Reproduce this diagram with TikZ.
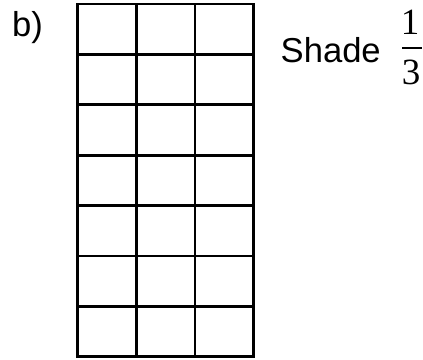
\documentclass[tikz,border=0pt]{standalone}
\usepackage{fontspec}
\setmainfont{Liberation Sans}
\newfontfamily\serifdigits{Liberation Serif}
\begin{document}
\begin{tikzpicture}[x=1pt,y=1pt,
  gridline/.style={line width=2.7pt, line cap=rect},
  label/.style={inner sep=0pt, font=\fontsize{34.6}{40}\selectfont},
  fracdigit/.style={inner sep=0pt, font=\serifdigits\fontsize{37}{42}\selectfont}]
\useasboundingbox (0,0) rectangle (423,359);
% grid: 3 columns x 7 rows
\foreach \x in {77.7,136.7,195,253.3}
  \draw[gridline] (\x,{359-4}) -- (\x,{359-356.7});
\foreach \i in {0,...,7}
  \draw[gridline] (77.7,{359-4-\i*50.386}) -- (253.3,{359-4-\i*50.386});
% texts
\node[label, anchor=base west] (b) at (12,{359-36.7}) {b)};
\node[label, anchor=base west] (shade) at (280.5,{359-63}) {Shade};
\node[fracdigit, anchor=base] (num) at (410,{359-35}) {1};
\node[fracdigit, anchor=base] (den) at (411,{359-85}) {3};
\draw[line width=1.5pt] (402,{359-48}) coordinate (barL) -- (421.5,{359-48}) coordinate (barR);
\end{tikzpicture}
\end{document}
